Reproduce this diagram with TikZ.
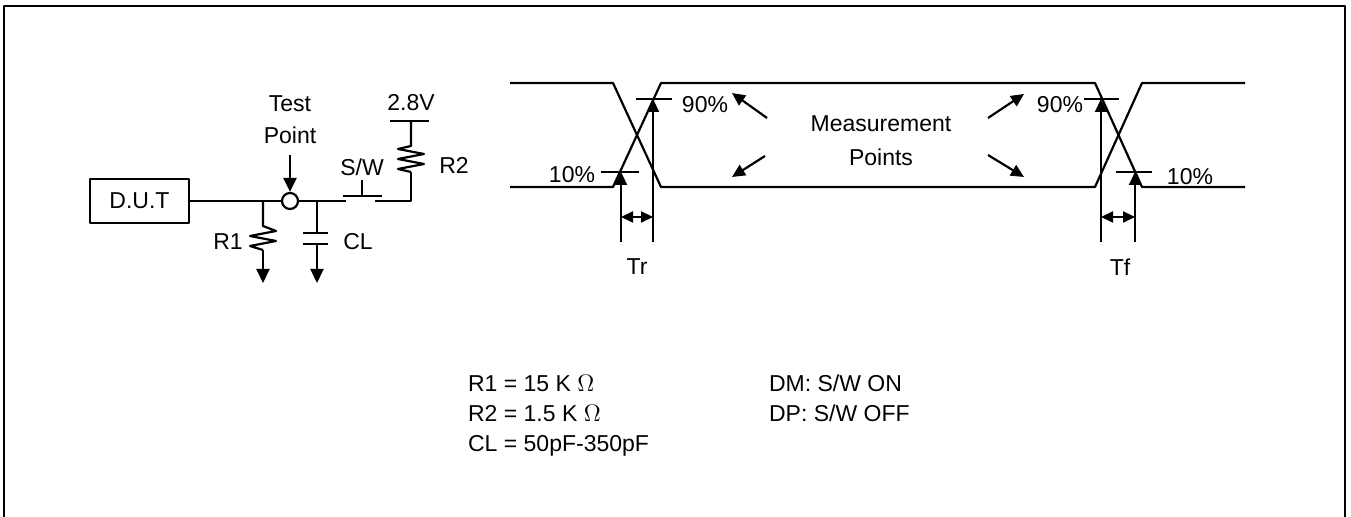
\documentclass[tikz,border=0pt]{standalone}
\usepackage{fontspec}
\setmainfont{Liberation Sans}
\usetikzlibrary{arrows.meta}
\tikzset{
  txt/.style={inner sep=0pt},
  gnd/.style={-{Triangle[length=7pt,width=6.5pt]}},
  meas/.style={-{Triangle[length=6.5pt,width=6pt]}},
  span/.style={{Triangle[length=6pt,width=5.5pt]}-{Triangle[length=6pt,width=5.5pt]}}
}
\begin{document}
\begin{tikzpicture}[x=0.5pt,y=-0.5pt,line width=1.1pt,line join=round,font=\fontsize{11.5}{13.8}\selectfont]
		\def\yh{83} \def\yl{187} % niveaux haut / bas
		\def\ynf{99} \def\ydx{172} \def\ytr{242}
		\useasboundingbox (0,0) rectangle (1351,517);
		\draw[line width=0.9pt] (4,540) |- (1345,6) -- (1345,540);
		% circuit de mesure
		\node[draw,minimum width=49.5pt,minimum height=22pt,inner sep=0pt] (dut) at (139.5,201) {D.U.T};
		\coordinate (jr1) at (263,201);
		\coordinate (jcl) at (317,201);
		\coordinate (swa) at (346,201);
		\coordinate (swb) at (375,201);
		\coordinate (rtop) at (411,201);
		\node[circle,draw,fill=white,minimum size=8pt,inner sep=0pt] (tpc) at (290,201) {};
		\draw (dut.east) -- (jr1) -- (tpc.west);
		\draw (tpc.east) -- (jcl) -- (swa);
		\draw (swb) -- (rtop) -- (411,172);
		% R2 + alimentation
		\draw (411,172) -- (398,169) -- (424,164) -- (398,159) -- (424,154) -- (398,149) -- (411,146) -- (411,121);
		\coordinate (vcc) at (411,121);
		\draw (390,121) -- (429,121);
		\node[txt] (vlbl) at (411,103) {2.8V};
		\node[txt] (r2lbl) at (454,165) {R2};
		% interrupteur
		\draw (343,196) -- (382,196);
		\draw (362,196) -- (362,180);
		\node[txt] (swlbl) at (362,167) {S/W};
		% point de test
		\node[txt,align=center] (tplbl) at (290,120) {Test\\[2pt]Point};
		\coordinate (tparr) at (290,155);
		\draw[gnd] (tparr) -- (tpc.north);
		% R1
		\draw (jr1) -- (263,226) -- (276,231) -- (250,236) -- (276,241) -- (250,246) -- (263,250);
		\draw[gnd] (263,250) -- (263,283);
		\node[txt] (r1lbl) at (228,242) {R1};
		% CL
		\draw (jcl) -- (317,233);
		\draw (303,233) -- (328,233);
		\draw (303,244) -- (328,244);
		\draw[gnd] (317,244) -- (317,283);
		\node[txt] (cllbl) at (358,242) {CL};
		% chronogramme
		\draw (510,\yh) -- (613,\yh) -- (661,\yl) -- (1095,\yl) -- (1142,\yh) -- (1245,\yh);
		\draw (510,\yl) -- (613,\yl) -- (661,\yh) -- (1095,\yh) -- (1142,\yl) -- (1245,\yl);
		% Tr
		\draw (636,\ynf) -- (672,\ynf);
		\draw (601,\ydx) -- (639,\ydx);
		\draw[meas] (653,\ytr) -- (653,\ynf);
		\draw[meas] (621,\ytr) -- (621,\ydx);
		\draw[span] (621,217) -- (653,217);
		\node[txt] (nfa) at (705,105) {90\%};
		\node[txt] (dxa) at (572,175) {10\%};
		\node[txt] (trlbl) at (637,267) {Tr};
		% Tf
		\draw (1084,\ynf) -- (1119,\ynf);
		\draw (1116,\ydx) -- (1152,\ydx);
		\draw[meas] (1101,\ytr) -- (1101,\ynf);
		\draw[meas] (1135,\ytr) -- (1135,\ydx);
		\draw[span] (1101,217) -- (1135,217);
		\node[txt] (nfb) at (1060,105) {90\%};
		\node[txt] (dxb) at (1190,177) {10\%};
		\node[txt] (tflbl) at (1120,267) {Tf};
		% points de mesure
		\node[txt,align=center] (mp) at (881,141) {Measurement\\[3pt]Points};
		\draw[meas] (767,118) -- (732,93);
		\draw[meas] (765,156) -- (732,177);
		\draw[meas] (988,118) -- (1024,94);
		\draw[meas] (988,155) -- (1024,177);
		% valeurs
		\node[txt,anchor=base west] (v1) at (467,392) {R1 = 15 K {\large$\Omega$}};
		\node[txt,anchor=base west] (v2) at (467,422) {R2 = 1.5 K {\large$\Omega$}};
		\node[txt,anchor=base west] (v3) at (467,452) {CL = 50pF-350pF};
		\node[txt,anchor=base west] (m1) at (768,392) {DM: S/W ON};
		\node[txt,anchor=base west] (m2) at (768,422) {DP: S/W OFF};
\end{tikzpicture}
\end{document}
